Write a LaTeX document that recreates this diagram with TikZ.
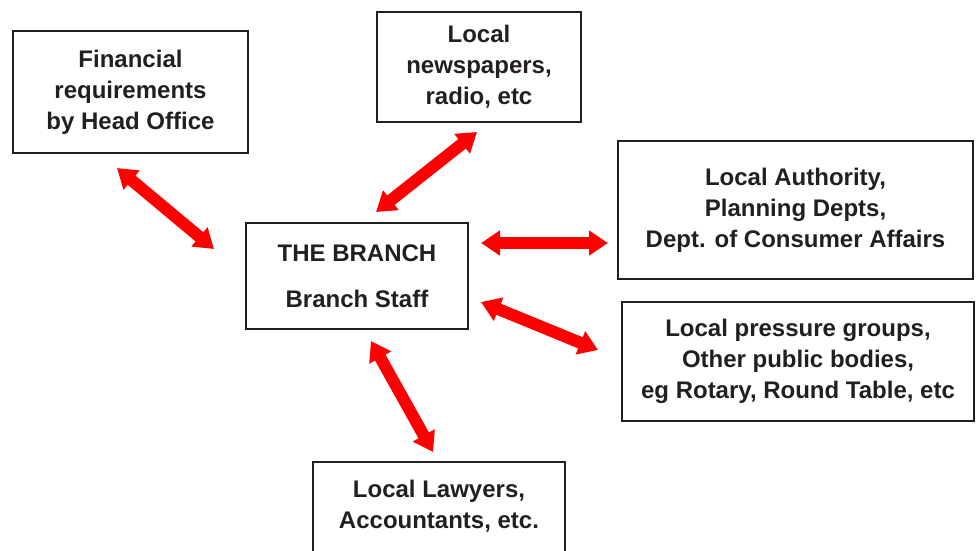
\documentclass[tikz,border=0pt]{standalone}
\usepackage{fontspec}
\setmainfont{Liberation Sans}
\usetikzlibrary{arrows.meta}
\definecolor{ink}{HTML}{231F20}
\definecolor{arrred}{HTML}{FF0000}
\begin{document}
\begin{tikzpicture}[x=1pt,y=-1pt,
  box/.style={draw=ink,line width=1.8pt,text=ink,align=center,font=\fontsize{24}{31}\selectfont\bfseries,inner sep=0pt},
  link/.style={draw=arrred,line width=12pt,{Triangle[width=24pt,length=19pt]}-{Triangle[width=24pt,length=19pt]}}]
\useasboundingbox (0,0) rectangle (976,550);
\node[box,minimum width=235pt,minimum height=122pt] (fin) at (130.5,92) {Financial\\requirements\\by Head Office};
\node[box,minimum width=204pt,minimum height=110pt] (news) at (479,67) {Local\\newspapers,\\radio, etc};
\node[box,minimum width=222pt,minimum height=106pt] (branch) at (357,276) {THE BRANCH\\[15pt]Branch Staff};
\node[box,minimum width=355pt,minimum height=138pt] (auth) at (795.5,210) {Local Authority,\\Planning Depts,\\Dept. of Consumer Affairs};
\node[box,minimum width=352pt,minimum height=119pt] (press) at (798,361.5) {Local pressure groups,\\Other public bodies,\\eg Rotary, Round Table, etc};
\node[box,minimum width=252pt,minimum height=120pt,anchor=north] (law) at (439,461) {};
\node[text=ink,align=center,font=\fontsize{24}{31}\selectfont\bfseries] (lawtext) at (439,506) {Local Lawyers,\\Accountants, etc.};
\coordinate (f1) at (117,168); \coordinate (f2) at (214,249);
\coordinate (n1) at (376,212); \coordinate (n2) at (477,132);
\coordinate (a1) at (481,243); \coordinate (a2) at (608,243);
\coordinate (p1) at (481,302); \coordinate (p2) at (598,350);
\coordinate (l1) at (371,341); \coordinate (l2) at (433,452);
\draw[link] (f1) -- (f2);
\draw[link] (n1) -- (n2);
\draw[link] (a1) -- (a2);
\draw[link] (p1) -- (p2);
\draw[link] (l1) -- (l2);
\end{tikzpicture}
\end{document}
